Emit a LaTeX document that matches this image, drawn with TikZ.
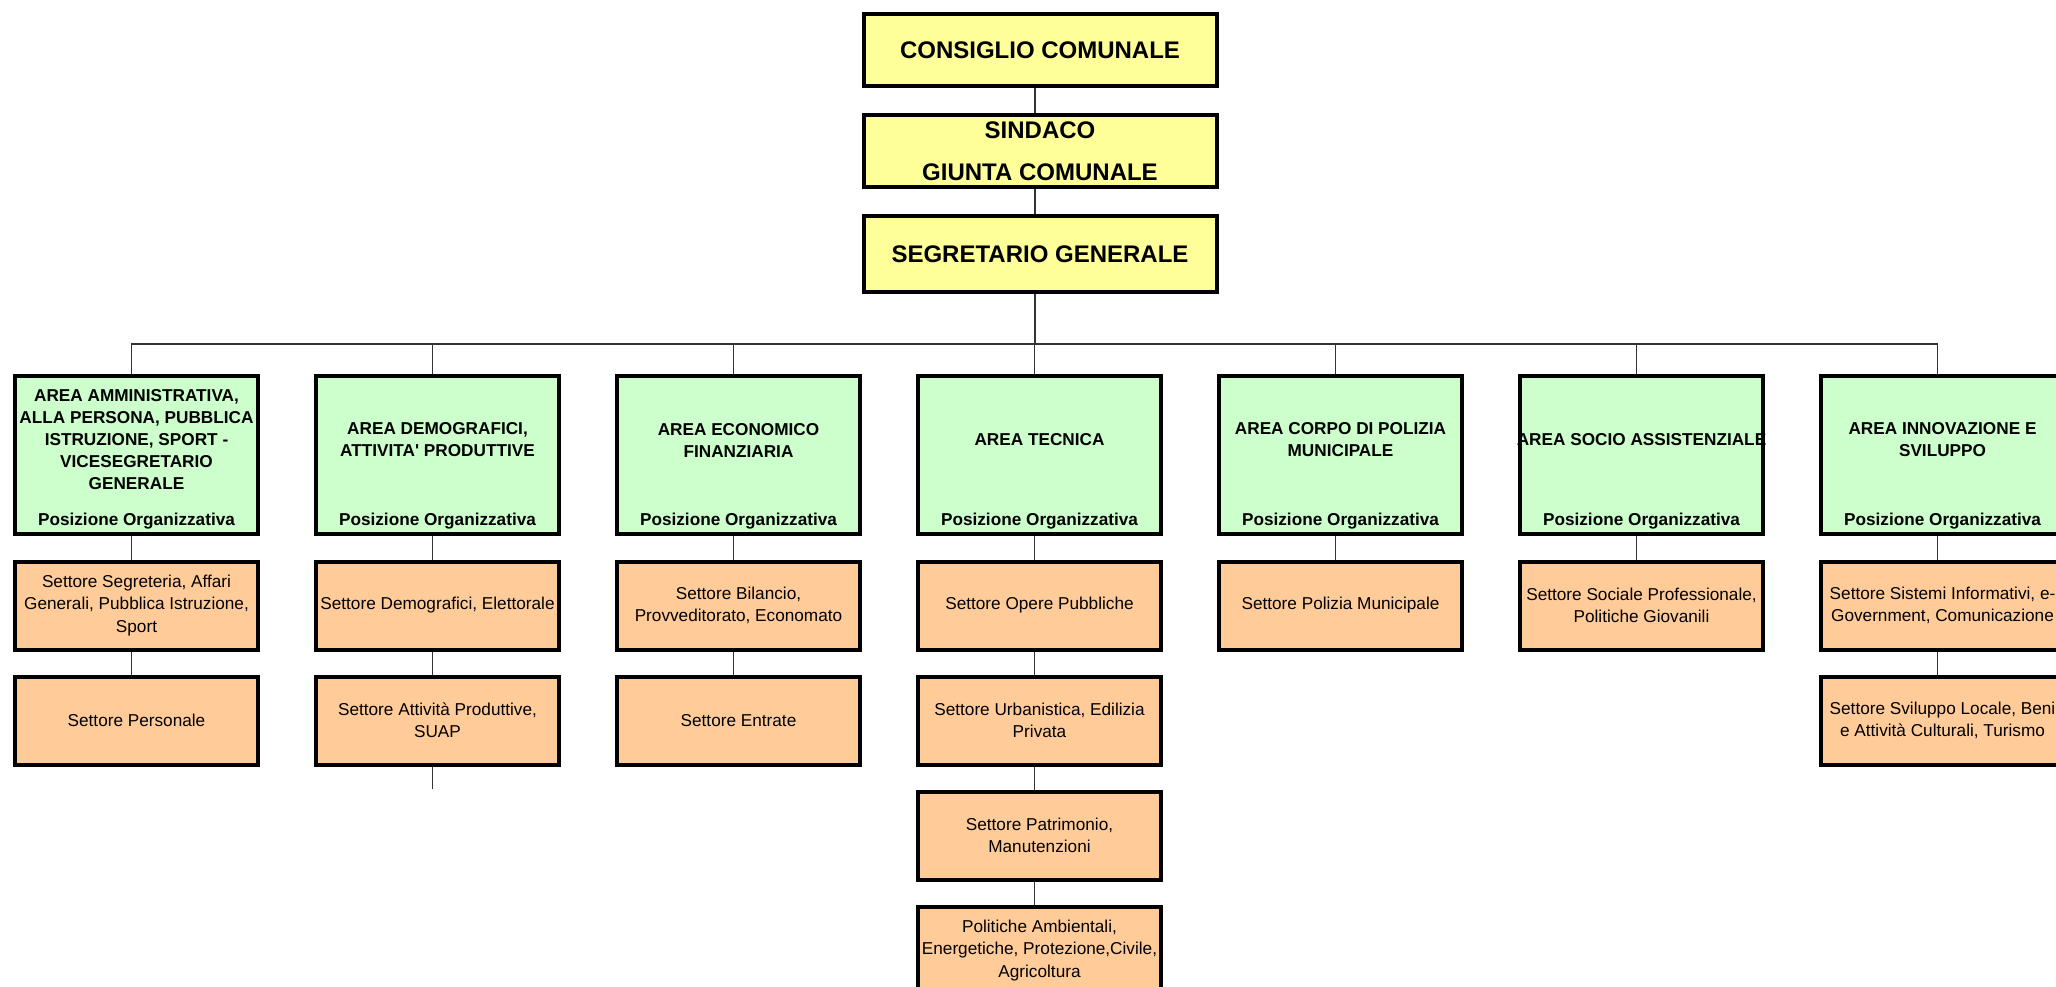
\documentclass[tikz,border=0pt]{standalone}
\usepackage{fontspec}
\setmainfont{Liberation Sans}
\usepackage{xcolor}
\usepackage{tikz}
\usetikzlibrary{positioning,calc}

\definecolor{topyellow}{HTML}{FFFF99}
\definecolor{areagreen}{HTML}{CCFFCC}
\definecolor{settoreorange}{HTML}{FFCC99}

\begin{document}
\begin{tikzpicture}[x=0.5pt,y=-0.5pt,
    node distance=11.5pt,
    topbox/.style={draw, line width=2pt, fill=topyellow, minimum width=176.5pt,
        minimum height=36pt, inner sep=0pt, align=center,
        font=\fontsize{12}{21}\selectfont\bfseries},
    areabox/.style={draw, line width=2pt, fill=areagreen, minimum width=121.5pt,
        minimum height=79pt, inner sep=0pt},
    areatitle/.style={inner sep=0pt, align=center,
        font=\fontsize{8.6}{11}\selectfont\bfseries},
    settore/.style={draw, line width=2pt, fill=settoreorange, minimum width=121.5pt,
        minimum height=44pt, inner sep=0pt, align=center,
        font=\fontsize{8.6}{11.1}\selectfont},
    link/.style={line width=0.7pt, black!80}]

    \useasboundingbox (0,0) rectangle (2056,986);

    % Vertici
    \node[topbox] (consiglio) at (1040,50) {CONSIGLIO COMUNALE};
    \node[topbox] (sindaco) at (1040,151) {SINDACO\\GIUNTA COMUNALE};
    \node[topbox, minimum height=38pt] (segretario) at (1040,254) {SEGRETARIO GENERALE};
    \coordinate (bus) at (1035,344);

    % Aree
    \foreach \i/\title in {
        0/{AREA AMMINISTRATIVA,\\ALLA PERSONA, PUBBLICA\\ISTRUZIONE, SPORT -\\VICESEGRETARIO\\GENERALE},
        1/{AREA DEMOGRAFICI,\\ATTIVITA\textquotesingle{} PRODUTTIVE},
        2/{AREA ECONOMICO\\FINANZIARIA},
        3/{AREA TECNICA},
        4/{AREA CORPO DI POLIZIA\\MUNICIPALE},
        5/{AREA SOCIO ASSISTENZIALE},
        6/{AREA INNOVAZIONE E\\SVILUPPO}} {
        \pgfmathsetmacro{\x}{136.5 + 301*\i}
        \node[areabox] (a\i) at (\x,454.5) {};
        \node[areatitle] (t\i) at (\x,440) {\title};
        \node[areatitle] (po\i) at (\x,521) {Posizione Organizzativa};
        \draw[link] ([xshift=-2.5pt]a\i.north) |- (bus);
    }

    % Settori
    \node[settore, below=12pt of a0] (s01) {Settore Segreteria, Affari\\Generali, Pubblica Istruzione,\\Sport};
    \node[settore, below=of s01] (s02) {Settore Personale};

    \node[settore, below=12pt of a1] (s11) {Settore Demografici, Elettorale};
    \node[settore, below=of s11] (s12) {Settore Attività Produttive,\\SUAP};
    \coordinate[below=11pt of s12] (stub);

    \node[settore, below=12pt of a2] (s21) {Settore Bilancio,\\Provveditorato, Economato};
    \node[settore, below=of s21] (s22) {Settore Entrate};

    \node[settore, below=12pt of a3] (s31) {Settore Opere Pubbliche};
    \node[settore, below=of s31] (s32) {Settore Urbanistica, Edilizia\\Privata};
    \node[settore, below=of s32] (s33) {Settore Patrimonio,\\Manutenzioni};
    \node[settore, below=of s33] (s34) {Politiche Ambientali,\\Energetiche, Protezione,Civile,\\Agricoltura};

    \node[settore, below=12pt of a4] (s41) {Settore Polizia Municipale};

    \node[settore, below=12pt of a5] (s51) {Settore Sociale Professionale,\\Politiche Giovanili};

    \node[settore, below=12pt of a6] (s61) {Settore Sistemi Informativi, e-\\Government, Comunicazione};
    \node[settore, below=of s61] (s62) {Settore Sviluppo Locale, Beni\\e Attività Culturali, Turismo};

    % Collegamenti (leggermente a sinistra del centro)
    \foreach \p/\q in {consiglio/sindaco, sindaco/segretario, a0/s01, s01/s02,
        a1/s11, s11/s12, s12/stub, a2/s21, s21/s22, a3/s31, s31/s32, s32/s33,
        s33/s34, a4/s41, a5/s51, a6/s61, s61/s62} {
        \draw[link] ([xshift=-2.5pt]\p.south) -- ([xshift=-2.5pt]\q.north);
    }
    \draw[link] ([xshift=-2.5pt]segretario.south) -- (bus);
\end{tikzpicture}
\end{document}
